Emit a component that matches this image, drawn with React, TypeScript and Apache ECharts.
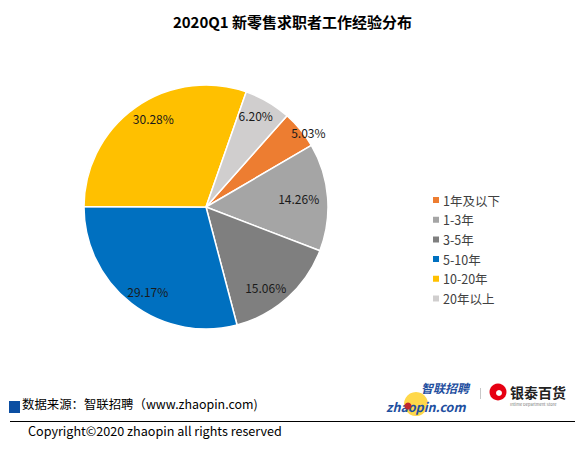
import React, { useEffect, useRef } from "react";
import * as echarts from "echarts";

const categories = ["1年及以下", "1-3年", "3-5年", "5-10年", "10-20年", "20年以上"];
const values = [5.03, 14.26, 15.06, 29.17, 30.28, 6.2];
const colors = ["#ED7D31", "#A5A5A5", "#7F7F7F", "#0070C0", "#FFC000", "#D0CECE"];
const titleText = "2020Q1 新零售求职者工作经验分布";
const sourceText = "数据来源：智联招聘（www.zhaopin.com)";
const copyrightText = "Copyright©2020 zhaopin all rights reserved";

const FONT = "'Noto Sans CJK SC', 'Noto Sans', sans-serif";

// small label nudges (Excel best-fit placement)
const labelNudge: [number, number][] = [
  [25, -11],
  [-7, 0],
  [-7, 6],
  [3, 5],
  [5, -7],
  [-1, -5],
];

export default function App() {
  const ref = useRef<HTMLDivElement>(null);
  useEffect(() => {
    document.body.style.margin = "0";
    const chart = echarts.init(ref.current!, null, { renderer: "svg" });
    const data = categories.map((c, i) => ({
      name: c,
      value: values[i],
      itemStyle: { color: colors[i] },
    }));
    chart.setOption({
      animation: false,
      backgroundColor: "#fff",
      title: {
        text: titleText,
        left: "center",
        top: 9,
        textStyle: { fontFamily: FONT, fontSize: 15, fontWeight: "bold", color: "#000" },
      },
      legend: {
        orient: "vertical",
        left: 426,
        top: 188,
        itemWidth: 8,
        itemHeight: 8,
        itemGap: 5.7,
        icon: "rect",
        data: categories,
        textStyle: { fontFamily: FONT, fontSize: 12.5, color: "#404040", lineHeight: 14, padding: [0, 0, 0, -2] },
      },
      series: [
        {
          type: "pie",
          center: [206, 207],
          radius: [0, 122],
          startAngle: 48.4,
          clockwise: true,
          silent: true,
          label: { show: false },
          labelLine: { show: false },
          itemStyle: { borderColor: "#fff", borderWidth: 1.5 },
          data,
        },
        {
          type: "pie",
          center: [206, 207],
          radius: [72, 122],
          startAngle: 48.4,
          clockwise: true,
          silent: true,
          legendHoverLink: false,
          itemStyle: { color: "rgba(0,0,0,0)", borderWidth: 0 },
          label: {
            show: true,
            position: "inside",
            formatter: (p: any) => p.value.toFixed(2) + "%",
            fontFamily: FONT,
            fontSize: 12,
            color: "#1a1a1a",
          },
          labelLine: { show: false },
          labelLayout: (p: any) => ({ dx: labelNudge[p.dataIndex][0], dy: labelNudge[p.dataIndex][1] }),
          data: categories.map((c, i) => ({ name: c + " ", value: values[i] })),
        },
      ],
      graphic: [
        { type: "rect", shape: { x: 9, y: 401, width: 11, height: 12 }, style: { fill: "#0B4EA2" } },
        {
          type: "text",
          x: 22,
          y: 404,
          style: { text: sourceText, fontFamily: FONT, fontSize: 12.4, fill: "#000", verticalAlign: "middle" },
        },
        { type: "line", shape: { x1: 10, y1: 421.5, x2: 575, y2: 421.5 }, style: { stroke: "#000", lineWidth: 1 } },
        {
          type: "text",
          x: 28,
          y: 430,
          style: { text: copyrightText, fontFamily: FONT, fontSize: 12.6, fill: "#000", verticalAlign: "middle" },
        },
        // zhaopin logo approximation
        { type: "circle", shape: { cx: 416, cy: 404, r: 12 }, style: { fill: "#FFD84A" } },
        {
          type: "text",
          x: 421,
          y: 387.5,
          style: { text: "智联招聘", fontFamily: FONT, fontSize: 12, lineHeight: 12, fontWeight: "bold", fontStyle: "italic", fill: "#1F4FA0", verticalAlign: "middle" },
        },
        {
          type: "text",
          x: 386,
          y: 406.5,
          style: { text: "zhaopin.com", fontFamily: FONT, fontSize: 12.5, lineHeight: 12.5, fontWeight: "bold", fontStyle: "italic", fill: "#1F4FA0", verticalAlign: "middle" },
        },
        { type: "circle", shape: { cx: 408, cy: 406, r: 3.5 }, style: { fill: "#C0282D" } },
        { type: "line", shape: { x1: 480.5, y1: 388, x2: 480.5, y2: 399 }, style: { stroke: "#C8C8C8", lineWidth: 1 } },
        // Intime logo approximation
        { type: "circle", shape: { cx: 498, cy: 392, r: 8.5 }, style: { fill: "#E60012" } },
        { type: "circle", shape: { cx: 499, cy: 393, r: 3 }, style: { fill: "#fff" } },
        {
          type: "text",
          x: 510,
          y: 392,
          style: { text: "银泰百货", fontFamily: FONT, fontSize: 14, fontWeight: "bold", fill: "#222", verticalAlign: "middle" },
        },
        {
          type: "text",
          x: 510,
          y: 404,
          style: { text: "Intime Department Store", fontFamily: FONT, fontSize: 4, fill: "#777", verticalAlign: "middle" },
        },
      ],
    });
    return () => chart.dispose();
  }, []);
  return <div ref={ref} style={{ position: "fixed", left: 0, top: 0, width: 585, height: 454 }} />;
}
